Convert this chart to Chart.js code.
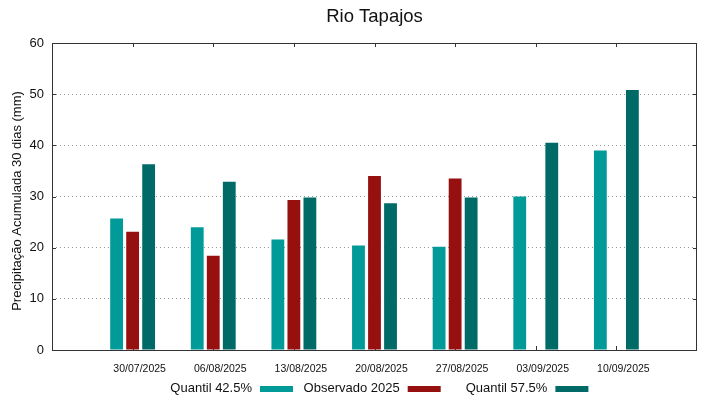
<!DOCTYPE html>
<html>
<head>
<meta charset="utf-8">
<script src="https://cdn.jsdelivr.net/npm/chart.js@4/dist/chart.umd.min.js"></script>
<style>
  body { margin: 0; background: #fff; }
  #wrap { width: 719px; height: 399px; }
</style>
</head>
<body>
<div id="wrap"><canvas id="chart" width="719" height="399"></canvas></div>
<script>
// data
const dates = ['30/07/2025', '06/08/2025', '13/08/2025', '20/08/2025', '27/08/2025', '03/09/2025', '10/09/2025'];
const quantil425 = [25.7, 24.0, 21.6, 20.4, 20.2, 30.0, 39.0];
const observado2025 = [23.1, 18.4, 29.3, 34.0, 33.5, null, null];
const quantil575 = [36.3, 32.9, 29.8, 28.7, 29.8, 40.5, 50.8];
const yTicks = [0, 10, 20, 30, 40, 50, 60];

const FONT = "'Liberation Sans', Arial, sans-serif";
const colors = ['#009a98', '#961010', '#006a66'];

// empty slot at each end, the axis runs one step past the first/last date
const pad = arr => [null, ...arr, null];
const labels = ['', ...dates, ''];

// gnuplot-like frame, inward ticks, titles and key
const framePlugin = {
    id: 'frame',
    beforeDatasetsDraw(chart) {
        const { ctx, chartArea: a, scales: { x, y } } = chart;
        ctx.save();
        ctx.strokeStyle = '#333';
        ctx.lineWidth = 1;
        ctx.beginPath();
        yTicks.forEach(v => {
            const py = Math.round(y.getPixelForValue(v)) + 0.5;
            ctx.moveTo(a.left, py); ctx.lineTo(a.left + 4, py);
            ctx.moveTo(a.right, py); ctx.lineTo(a.right - 4, py);
        });
        dates.forEach((d, i) => {
            const px = Math.round(x.getPixelForValue(i + 1)) + 0.5;
            ctx.moveTo(px, a.top); ctx.lineTo(px, a.top + 4);
            ctx.moveTo(px, a.bottom); ctx.lineTo(px, a.bottom - 4);
        });
        ctx.stroke();
        ctx.restore();
    },
    afterDraw(chart) {
        const { ctx, chartArea: a } = chart;
        ctx.save();
        ctx.strokeStyle = '#333';
        ctx.lineWidth = 1;
        ctx.strokeRect(a.left + 0.5, a.top + 0.5, a.right - a.left - 1, a.bottom - a.top);

        ctx.fillStyle = '#111';
        ctx.font = '18.5px ' + FONT;
        ctx.textAlign = 'center';
        ctx.textBaseline = 'alphabetic';
        ctx.fillText('Rio Tapajos', (a.left + a.right) / 2, 22);

        // y axis title
        ctx.save();
        ctx.font = '13px ' + FONT;
        ctx.textBaseline = 'middle';
        ctx.translate(17, 201);
        ctx.rotate(-Math.PI / 2);
        ctx.fillText('Precipitação Acumulada 30 dias (mm)', 0, 0);
        ctx.restore();

        // key: text then swatch
        ctx.font = '13px ' + FONT;
        ctx.textAlign = 'right';
        chart.data.datasets.forEach((ds, i) => {
            const sx = 260 + i * 147.7;
            ctx.fillStyle = '#111';
            ctx.fillText(ds.label, sx - 8, 392);
            ctx.fillStyle = ds.backgroundColor;
            ctx.fillRect(sx, 386, 33, 6);
        });
        ctx.restore();
    }
};

new Chart(document.getElementById('chart').getContext('2d'), {
    type: 'bar',
    data: {
        labels,
        datasets: [
            { label: 'Quantil 42.5%', data: pad(quantil425), backgroundColor: colors[0] },
            { label: 'Observado 2025', data: pad(observado2025), backgroundColor: colors[1] },
            { label: 'Quantil 57.5%', data: pad(quantil575), backgroundColor: colors[2] }
        ]
    },
    options: {
        responsive: false,
        animation: false,
        categoryPercentage: 0.596,
        barPercentage: 0.8,
        layout: { padding: { top: 43, right: 22, left: 0, bottom: 0 } },
        plugins: {
            legend: { display: false },
            title: { display: false },
            tooltip: { enabled: false }
        },
        scales: {
            x: {
                offset: false,
                grid: { display: false },
                border: { display: false },
                ticks: {
                    color: '#111',
                    font: { family: FONT, size: 10.5 },
                    padding: 5,
                    labelOffset: 7,
                    maxRotation: 0,
                    autoSkip: false
                },
                afterFit(scale) { scale.height = 49; }
            },
            y: {
                min: 0,
                max: 60,
                grid: { color: '#999', lineWidth: 1, drawTicks: false },
                border: { display: false, dash: [1, 3] },
                ticks: {
                    stepSize: 10,
                    color: '#111',
                    font: { family: FONT, size: 13 },
                    padding: 8
                },
                afterFit(scale) { scale.width = 52; }
            }
        }
    },
    plugins: [framePlugin]
});
</script>
</body>
</html>
